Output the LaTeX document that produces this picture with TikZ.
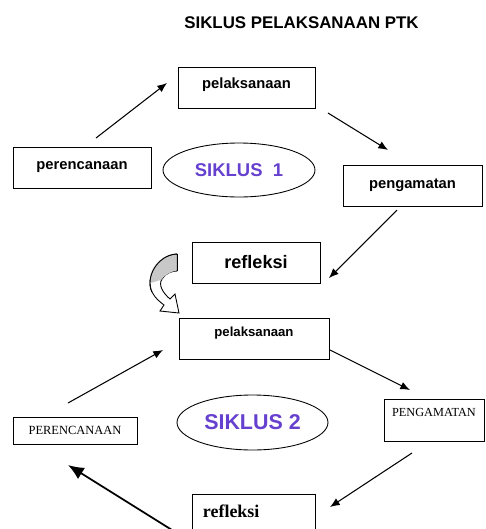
\documentclass[tikz,border=0pt]{standalone}
\usepackage{fontspec}
\newfontfamily\fontarial{Liberation Sans}
\newfontfamily\fonttimes{Liberation Serif}
\usepackage{xcolor}
\usepackage{tikz}
\usetikzlibrary{calc,arrows.meta,shapes.geometric,positioning}

\definecolor{ungu}{RGB}{102,64,206}
\definecolor{abu}{RGB}{200,200,200}

\tikzset{
    kotak/.style={draw, black, line width=0.5pt, rectangle, inner sep=2pt},
    lingkar/.style={draw, black, line width=0.5pt, ellipse, inner sep=0pt,
        text=ungu, font=\fontarial\bfseries\fontsize{10.5}{12}\selectfont},
    panah/.style={-{Latex[length=5.5pt,width=4.5pt]}, line width=0.6pt, black},
    panahbesar/.style={-{Latex[length=9pt,width=7.5pt]}, line width=1pt, black},
}

\begin{document}
\begin{tikzpicture}[x=0.02cm, y=-0.02cm]

\useasboundingbox (0,0) rectangle (485,529);

% Title
\node[font=\fontarial\bfseries\fontsize{9.6}{11}\selectfont] (judul) at (301.5,23) {SIKLUS PELAKSANAAN PTK};

% Siklus 1 boxes
\node[kotak, minimum width=2.74cm, minimum height=0.82cm, text height=6pt, text depth=5.4pt,
    font=\fontarial\bfseries\fontsize{8.4}{10}\selectfont] (pel1) at (246.5,87.5) {pelaksanaan};
\node[kotak, minimum width=2.76cm, minimum height=0.82cm,
    font=\fontarial\bfseries\fontsize{8.4}{10}\selectfont] (per1) at (82,167.5) {perencanaan};
\node[kotak, minimum width=2.78cm, minimum height=0.82cm,
    font=\fontarial\bfseries\fontsize{8.4}{10}\selectfont] (pen1) at (412.5,185.5) {pengamatan};
\node[kotak, minimum width=2.56cm, minimum height=0.82cm,
    font=\fontarial\bfseries\fontsize{10.3}{12}\selectfont] (ref1) at (256,262.5) {refleksi};

% Siklus 1 label
\node[lingkar, minimum width=3.04cm, minimum height=1.08cm] (sik1) at (239,170) {SIKLUS\ \ 1};

% Siklus 1 arrows
\coordinate (a1s) at (96,138);  \coordinate (a1e) at (167,83);
\coordinate (a2s) at (328,113); \coordinate (a2e) at (388,150);
\coordinate (a3s) at (397,210); \coordinate (a3e) at (329,278);
\draw[panah] (a1s) -- (a1e);
\draw[panah] (a2s) -- (a2e);
\draw[panah] (a3s) -- (a3e);

% Curved block arrow to siklus 2
\draw[line width=0.5pt, fill=white] (177,254) .. controls (157,255) and (145,278) .. (152,292)
    .. controls (155,298) and (160,302) .. (164,305) -- (160,311) -- (179,313) -- (175,294)
    -- (170,299) .. controls (163,293) and (158,285) .. (162,279)
    .. controls (166,273) and (172,271) .. (177,271) -- cycle;
\fill[abu] (176.5,254.5) .. controls (158,256) and (148,270) .. (150.5,283)
    .. controls (154,282) and (158,281) .. (161.5,279.5)
    .. controls (166,273.5) and (172,271.5) .. (176.5,270.5) -- cycle;
\draw[line width=0.5pt] (177,254) .. controls (157,255) and (145,278) .. (152,292);
\draw[line width=0.5pt] (177,254) -- (177,271);

% Siklus 2 boxes
\node[kotak, minimum width=3.0cm, minimum height=0.82cm, text height=6pt, text depth=8pt,
    font=\fontarial\bfseries\fontsize{7.5}{9}\selectfont] (pel2) at (254,338.5) {pelaksanaan};
\node[kotak, minimum width=2.48cm, minimum height=0.54cm,
    font=\fonttimes\fontsize{7.1}{9}\selectfont] (per2) at (75,430.5) {PERENCANAAN};
\node[kotak, minimum width=2.0cm, minimum height=0.84cm, text height=5pt, text depth=9.5pt,
    font=\fonttimes\fontsize{7}{9}\selectfont] (pen2) at (434,420) {PENGAMATAN};
\node[kotak, anchor=north west, inner xsep=6pt, inner ysep=6pt, text width=2.46cm-12pt,
    align=left, text depth=12pt,
    font=\fonttimes\bfseries\fontsize{10.2}{12}\selectfont] (ref2) at (192,494) {refleksi};

% Siklus 2 label
\node[lingkar, minimum width=3.02cm, minimum height=1.1cm,
    font=\fontarial\bfseries\fontsize{12.2}{14}\selectfont] (sik2) at (252.5,422.5) {SIKLUS 2};

% Siklus 2 arrows
\coordinate (a4s) at (68,403);  \coordinate (a4e) at (163,350);
\coordinate (a5s) at (330,350); \coordinate (a5e) at (410,390);
\coordinate (a6s) at (412,453); \coordinate (a6e) at (330,507);
\coordinate (a7s) at (172,530); \coordinate (a7e) at (68,465);
\draw[panah] (a4s) -- (a4e);
\draw[panah] (a5s) -- (a5e);
\draw[panah] (a6s) -- (a6e);
\draw[panahbesar] (a7s) -- (a7e);

\end{tikzpicture}
\end{document}
